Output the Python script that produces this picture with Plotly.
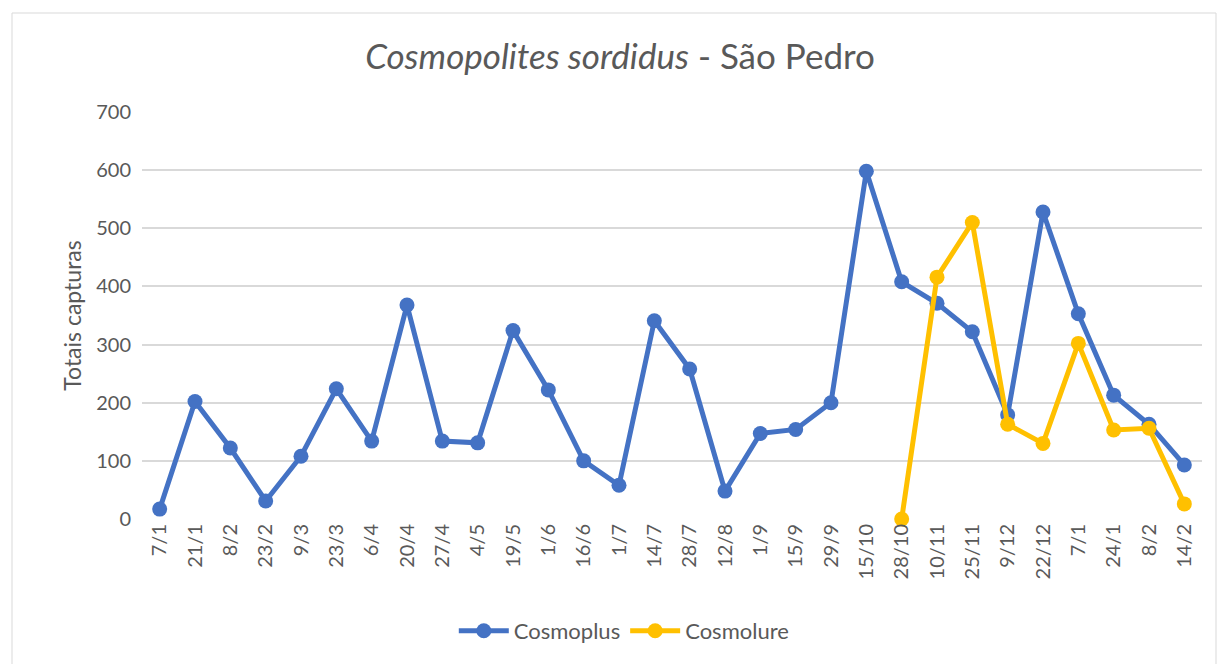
import plotly.graph_objects as go

dates = ["7/1", "21/1", "8/2", "23/2", "9/3", "23/3", "6/4", "20/4", "27/4", "4/5",
         "19/5", "1/6", "16/6", "1/7", "14/7", "28/7", "12/8", "1/9", "15/9", "29/9",
         "15/10", "28/10", "10/11", "25/11", "9/12", "22/12", "7/1", "24/1", "8/2", "14/2"]

cosmoplus = [17, 202, 122, 31, 108, 224, 134, 368, 134, 131,
             324, 222, 100, 58, 341, 258, 48, 147, 154, 200,
             598, 408, 371, 322, 179, 528, 353, 213, 163, 93]

cosmolure = [None] * 21 + [0, 416, 510, 163, 130, 302, 153, 156, 26]

x_idx = list(range(len(dates)))

BLUE = "#4472C4"
GOLD = "#FFC000"
TXT = "#595959"
FONT = "Lato, Open Sans, sans-serif"

fig = go.Figure()
fig.add_trace(go.Scatter(x=x_idx, y=cosmoplus, name="Cosmoplus", mode="lines+markers",
                         line=dict(color=BLUE, width=5), marker=dict(size=15, color=BLUE),
                         cliponaxis=False))
fig.add_trace(go.Scatter(x=x_idx, y=cosmolure, name="Cosmolure", mode="lines+markers",
                         line=dict(color=GOLD, width=5), marker=dict(size=15, color=GOLD),
                         cliponaxis=False))

L, R, T, B = 142, 16, 112, 145
fig.update_layout(
    width=1218, height=664,
    paper_bgcolor="white", plot_bgcolor="white",
    margin=dict(l=L, r=R, t=T, b=B),
    font=dict(family=FONT, color=TXT, size=20),
    title=dict(text="<i>Cosmopolites sordidus</i> - São Pedro", x=620 / 1218, xanchor="center",
               xref="container", y=1 - 57 / 664, yanchor="middle",
               font=dict(size=35, color=TXT, family=FONT)),
    showlegend=True,
    legend=dict(orientation="h", x=0.455, xanchor="center", y=(519 - 631) / 407, yanchor="middle",
                font=dict(size=22, color=TXT), itemwidth=50),
    xaxis=dict(range=[-0.5, len(dates) - 0.5], tickmode="array", tickvals=x_idx, ticktext=dates,
               tickangle=-90, showgrid=False, zeroline=False, showline=False,
               tickfont=dict(size=20, color=TXT), ticks=""),
    yaxis=dict(range=[0, 700], dtick=100, showgrid=True, gridcolor="#D9D9D9", gridwidth=1.5,
               zeroline=False, showline=False, tickfont=dict(size=20, color=TXT),
               title=dict(text="Totais capturas", font=dict(size=23, color=TXT), standoff=8),
               ticklabelstandoff=10),
)

# outer chart border
pw = 1218 - L - R
ph = 664 - T - B
fig.add_shape(type="rect", xref="paper", yref="paper",
              x0=(12 - L) / pw, x1=(1216 - L) / pw,
              y0=(-B - 5) / ph, y1=(664 - 13 - B) / ph,
              line=dict(color="#D9D9D9", width=1), fillcolor="rgba(0,0,0,0)", layer="below")

fig.write_html("out.html", config={"displayModeBar": False},
               post_script="document.body.style.margin='0';document.body.style.overflow='hidden';")
